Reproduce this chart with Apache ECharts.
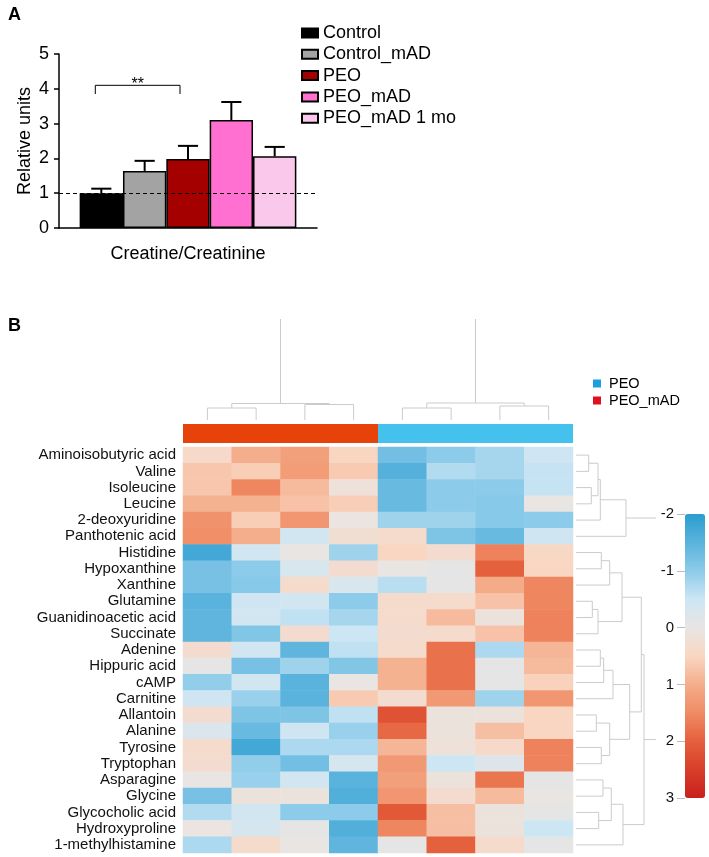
<!DOCTYPE html>
<html>
<head>
<meta charset="utf-8">
<script src="https://cdn.jsdelivr.net/npm/echarts@6/dist/echarts.min.js"></script>
<style>
html,body{margin:0;padding:0;background:#fff;}
#chart{width:709px;height:857px;}
</style>
</head>
<body>
<div id="chart"></div>
<script>
// ---------- Panel A data ----------
const barCategory = ['Creatine/Creatinine'];
const barGroups = ['Control', 'Control_mAD', 'PEO', 'PEO_mAD', 'PEO_mAD 1 mo'];
const barMeans = [1.0, 1.64, 1.98, 3.1, 2.06];
const barErrTops = [1.13, 1.93, 2.36, 3.62, 2.33];
const sigPair = [0, 2];          // Control vs PEO
const sigLevels = [4.1, 3.85];   // bracket level, bracket end
const sigLabel = '**';
const refLineValue = 1;

// ---------- Panel B data ----------
const metabolites = ['Aminoisobutyric acid', 'Valine', 'Isoleucine', 'Leucine', '2-deoxyuridine',
  'Panthotenic acid', 'Histidine', 'Hypoxanthine', 'Xanthine', 'Glutamine', 'Guanidinoacetic acid',
  'Succinate', 'Adenine', 'Hippuric acid', 'cAMP', 'Carnitine', 'Allantoin', 'Alanine', 'Tyrosine',
  'Tryptophan', 'Asparagine', 'Glycine', 'Glycocholic acid', 'Hydroxyproline', '1-methylhistamine'];
const samples = ['S1', 'S2', 'S3', 'S4', 'S5', 'S6', 'S7', 'S8'];
const sampleGroupNames = ['PEO', 'PEO_mAD'];
const sampleGroups = [1, 1, 1, 1, 0, 0, 0, 0];
const zValues = [
  [0.4, 1.0, 1.2, 0.5, -1.25, -1.0, -0.8, -0.45],
  [0.7, 0.6, 1.25, 0.65, -1.55, -0.7, -0.8, -0.55],
  [0.7, 1.55, 0.85, 0.15, -1.35, -1.0, -1.0, -0.55],
  [0.95, 0.95, 0.75, 0.6, -1.35, -1.0, -1.05, 0.0],
  [1.4, 0.6, 1.35, 0.05, -0.85, -0.85, -1.05, -1.0],
  [1.45, 1.0, -0.4, 0.25, 0.35, -1.15, -1.35, -0.45],
  [-1.75, -0.4, 0.0, -0.85, 0.5, 0.3, 1.6, 0.45],
  [-1.2, -1.0, -0.3, 0.3, 0.0, -0.05, 2.0, 0.5],
  [-1.2, -1.05, 0.35, -0.3, -0.65, -0.05, 1.05, 1.55],
  [-1.5, -0.45, -0.4, -1.0, 0.35, 0.35, 0.75, 1.55],
  [-1.45, -0.4, -0.6, -0.8, 0.35, 0.85, 0.1, 1.6],
  [-1.45, -1.1, 0.3, -0.5, 0.3, 0.35, 0.75, 1.6],
  [0.3, -0.4, -1.45, -0.6, 0.35, 1.8, -0.75, 0.9],
  [-0.05, -1.2, -0.85, -1.1, 0.95, 1.8, -0.05, 0.85],
  [-0.95, -0.4, -1.5, 0.0, 0.95, 1.8, -0.05, 0.55],
  [-0.45, -0.9, -1.5, 0.65, 0.3, 1.3, -0.85, 1.35],
  [0.3, -1.15, -1.15, -0.6, 2.2, 0.1, 0.1, 0.5],
  [-0.25, -1.35, -0.45, -0.9, 1.9, 0.1, 0.8, 0.5],
  [0.35, -1.75, -0.75, -0.75, 0.9, 0.15, 0.4, 1.6],
  [0.3, -0.95, -1.25, -0.35, 1.3, -0.5, -0.2, 1.6],
  [0.0, -0.9, -0.4, -1.5, 1.2, 0.1, 1.75, -0.05],
  [-1.2, 0.1, 0.1, -1.6, 1.35, 0.3, 0.85, 0.0],
  [-0.7, -0.4, -1.0, -1.0, 2.1, 0.8, 0.1, -0.05],
  [0.05, -0.35, -0.05, -1.6, 1.55, 0.8, 0.1, -0.5],
  [-0.75, 0.35, 0.0, -1.45, -0.05, 2.0, 0.35, -0.05]
];
const colorScaleTicks = [-2, -1, 0, 1, 2, 3];

// dendrograms: [childA, childB, height]; child index < leafCount is a leaf,
// otherwise it refers to merge (index - leafCount)
const rowMerges = [
  [0, 1, 12.7], [2, 3, 15.3], [25, 26, 22], [27, 4, 24.3], [28, 5, 50],
  [6, 7, 25.3], [30, 8, 33.7], [9, 10, 16.3], [32, 11, 22], [31, 33, 46],
  [12, 13, 24.3], [35, 14, 27.7], [36, 15, 37], [16, 17, 20.3], [18, 19, 25.3],
  [38, 39, 33.7], [37, 40, 53.7], [34, 41, 65.3], [20, 21, 27], [22, 23, 22.7],
  [43, 44, 35.3], [45, 24, 47], [42, 46, 68]
];
const rowStems = [[29, 80], [47, 80]];
const colMerges = [
  [0, 1, 12], [2, 3, 15.5], [8, 9, 16.5], [4, 5, 12], [6, 7, 14], [11, 12, 17]
];
const colStems = [[10, 101], [13, 101]];

// ---------- styles ----------
const FONT = 'Liberation Sans, Arial, Helvetica, sans-serif';
const barColors = ['#000000', '#a3a3a3', '#a40000', '#ff70d0', '#f9c8ea'];
const groupBandColors = ['#45c1ed', '#e8420b'];
const groupLegendColors = ['#1a9fe0', '#e0101e'];
const heatColors = ['#2b9dcf', '#5ab3dc', '#8ccbe9', '#cce6f4', '#e9e5e3', '#f9d6c2',
  '#f4ae8c', '#ef8b64', '#e5603c', '#d83e2a', '#c8201c'];
const DENDRO_COLOR = '#cbcbcb';
const CAT_GAP = 0.16;

// ---------- helpers ----------
function dendroSegments(merges, leafCount, stems) {
  const pos = [], hgt = [];
  for (let i = 0; i < leafCount; i++) { pos[i] = i; hgt[i] = 0; }
  const segs = [];
  merges.forEach((m, k) => {
    const a = m[0], b = m[1], h = m[2];
    const id = leafCount + k;
    pos[id] = (pos[a] + pos[b]) / 2;
    hgt[id] = h;
    segs.push([pos[a], hgt[a], pos[b], hgt[b], h]);
  });
  stems.forEach(s => {
    segs.push([pos[s[0]], hgt[s[0]], pos[s[0]], s[1], -1]);
  });
  return segs;
}
const rowSegs = dendroSegments(rowMerges, metabolites.length, rowStems);
const colSegs = dendroSegments(colMerges, samples.length, colStems);

// runs of consecutive samples in the same group: [firstCol, lastCol, group]
const groupRuns = [];
sampleGroups.forEach((g, c) => {
  const last = groupRuns[groupRuns.length - 1];
  if (last && last[2] === g && last[1] === c - 1) last[1] = c;
  else groupRuns.push([c, c, g]);
});

const heatData = [];
zValues.forEach((row, r) => row.forEach((v, c) => heatData.push([c, r, v])));

function barCenterX(api, gi) {
  const c = api.coord([0, 0]);
  const band = api.size([1, 0])[0];
  const bw = band * (1 - CAT_GAP) / barGroups.length;
  return { x: c[0] + (gi - (barGroups.length - 1) / 2) * bw, bw: bw };
}

const series = [];
barGroups.forEach((g, i) => {
  const s = {
    type: 'bar', name: g, xAxisIndex: 0, yAxisIndex: 0,
    data: [barMeans[i]],
    barGap: '0%', barCategoryGap: (CAT_GAP * 100) + '%',
    itemStyle: { color: barColors[i], borderColor: '#000', borderWidth: 1.5 },
    z: 2
  };
  if (i === 0) {
    s.markLine = {
      silent: true, symbol: 'none', label: { show: false },
      lineStyle: { type: [4, 3], color: '#000', width: 1 },
      data: [{ yAxis: refLineValue }], z: 5
    };
  }
  series.push(s);
});
// error bars
series.push({
  type: 'custom', name: 'err', xAxisIndex: 0, yAxisIndex: 0, clip: false, z: 3,
  data: barGroups.map((g, i) => [0, barMeans[i], barErrTops[i], i]),
  renderItem: function (params, api) {
    const gi = api.value(3);
    const p = barCenterX(api, gi);
    const y0 = api.coord([0, api.value(1)])[1];
    const y1 = api.coord([0, api.value(2)])[1];
    const half = p.bw / 4.3;
    return {
      type: 'group', children: [
        { type: 'line', shape: { x1: p.x, y1: y0, x2: p.x, y2: y1 }, style: { stroke: '#000', lineWidth: 2 } },
        { type: 'line', shape: { x1: p.x - half, y1: y1, x2: p.x + half, y2: y1 }, style: { stroke: '#000', lineWidth: 2 } }
      ]
    };
  }
});
// significance bracket
series.push({
  type: 'custom', name: 'sig', xAxisIndex: 0, yAxisIndex: 0, clip: false, z: 3,
  data: [[0, sigPair[0], sigPair[1], sigLevels[0], sigLevels[1]]],
  renderItem: function (params, api) {
    const a = barCenterX(api, api.value(1)).x - 6;
    const b = barCenterX(api, api.value(2)).x - 8;
    const yl = api.coord([0, api.value(3)])[1];
    const yd = api.coord([0, api.value(4)])[1];
    return {
      type: 'group', children: [
        { type: 'polyline', shape: { points: [[a, yd], [a, yl], [b, yl], [b, yd]] }, style: { stroke: '#000', lineWidth: 1, fill: null } },
        { type: 'text', style: { text: sigLabel, x: (a + b) / 2, y: yl - 1, textAlign: 'center', textVerticalAlign: 'middle', font: '16px ' + FONT, fill: '#000' } }
      ]
    };
  }
});
// heatmap
const heatSeriesIndex = series.length;
series.push({
  type: 'heatmap', name: 'heat', xAxisIndex: 1, yAxisIndex: 1,
  data: heatData, itemStyle: { borderWidth: 0 }
});
// group annotation band
series.push({
  type: 'custom', name: 'groups', xAxisIndex: 2, yAxisIndex: 2,
  data: groupRuns.map(r => [r[0], r[1], r[2]]),
  renderItem: function (params, api) {
    const c0 = api.coord([api.value(0), 0]);
    const c1 = api.coord([api.value(1), 0]);
    const sz = api.size([1, 1]);
    return {
      type: 'rect',
      shape: { x: c0[0] - sz[0] / 2, y: c0[1] - sz[1] / 2, width: c1[0] - c0[0] + sz[0], height: sz[1] },
      style: { fill: groupBandColors[api.value(2)] }
    };
  }
});
// column dendrogram
series.push({
  type: 'custom', name: 'coldendro', xAxisIndex: 3, yAxisIndex: 3, clip: false,
  data: colSegs,
  renderItem: function (params, api) {
    const pa = api.value(0), ha = api.value(1), pb = api.value(2), hb = api.value(3), h = api.value(4);
    let pts;
    if (h < 0) pts = [api.coord([pa, ha]), api.coord([pb, hb])];
    else pts = [api.coord([pa, ha]), api.coord([pa, h]), api.coord([pb, h]), api.coord([pb, hb])];
    return { type: 'polyline', shape: { points: pts }, style: { stroke: DENDRO_COLOR, lineWidth: 1, fill: null } };
  }
});
// row dendrogram
series.push({
  type: 'custom', name: 'rowdendro', xAxisIndex: 4, yAxisIndex: 4, clip: false,
  data: rowSegs,
  renderItem: function (params, api) {
    const pa = api.value(0), ha = api.value(1), pb = api.value(2), hb = api.value(3), h = api.value(4);
    let pts;
    if (h < 0) pts = [api.coord([ha, pa]), api.coord([hb, pb])];
    else pts = [api.coord([ha, pa]), api.coord([h, pa]), api.coord([h, pb]), api.coord([hb, pb])];
    return { type: 'polyline', shape: { points: pts }, style: { stroke: DENDRO_COLOR, lineWidth: 1, fill: null } };
  }
});

const option = {
  animation: false,
  backgroundColor: '#fff',
  textStyle: { fontFamily: FONT },
  title: [
    { text: 'A', left: 3, top: 1, textStyle: { fontSize: 18, fontWeight: 'bold', color: '#000', fontFamily: FONT } },
    { text: 'B', left: 3, top: 312, textStyle: { fontSize: 18, fontWeight: 'bold', color: '#000', fontFamily: FONT } }
  ],
  legend: [
    {
      data: barGroups, orient: 'vertical', left: 301, top: 24, icon: 'rect', padding: 0,
      itemWidth: 16, itemHeight: 9, itemGap: 3.3, selectedMode: false,
      textStyle: { fontSize: 18, lineHeight: 18, color: '#000', fontFamily: FONT }
    },
    {
      data: sampleGroupNames.map((n, i) => ({ name: n, itemStyle: { color: groupLegendColors[i], borderWidth: 0 } })),
      orient: 'vertical', left: 593, top: 376, icon: 'rect', padding: 0,
      itemWidth: 8, itemHeight: 8, itemGap: 2, selectedMode: false,
      textStyle: { fontSize: 14.5, lineHeight: 14, color: '#000', fontFamily: FONT, padding: [0, 0, 0, 3] }
    }
  ],
  grid: [
    { left: 59, top: 54, width: 258, height: 174 },
    { left: 183, top: 447, width: 390, height: 406 },
    { left: 183, top: 424, width: 390, height: 19 },
    { left: 183, top: 319, width: 390, height: 101 },
    { left: 576, top: 447, width: 80, height: 406 },
    { left: 685, top: 514, width: 20, height: 284 }
  ],
  xAxis: [
    {
      gridIndex: 0, type: 'category', data: barCategory,
      axisLine: { lineStyle: { color: '#000', width: 1.5 } },
      axisTick: { alignWithLabel: true, length: 5, lineStyle: { color: '#000', width: 1.5 } },
      axisLabel: { fontSize: 18, color: '#000', margin: 17 }
    },
    { gridIndex: 1, type: 'category', data: samples, show: false },
    { gridIndex: 2, type: 'category', data: samples, show: false },
    { gridIndex: 3, type: 'value', min: -0.5, max: samples.length - 0.5, show: false },
    { gridIndex: 4, type: 'value', min: 0, max: 80, show: false },
    { gridIndex: 5, type: 'value', min: 0, max: 1, show: false }
  ],
  yAxis: [
    {
      gridIndex: 0, type: 'value', min: 0, max: 5, interval: 1,
      name: 'Relative units', nameLocation: 'middle', nameGap: 25,
      nameTextStyle: { fontSize: 18, color: '#000' },
      axisLine: { show: true, lineStyle: { color: '#000', width: 1.5 } },
      axisTick: { show: true, length: 5, lineStyle: { color: '#000', width: 1.5 } },
      axisLabel: { fontSize: 18, color: '#000', margin: 10 },
      splitLine: { show: false }
    },
    {
      gridIndex: 1, type: 'category', data: metabolites, inverse: true,
      axisLine: { show: false }, axisTick: { show: false },
      axisLabel: { fontSize: 15, color: '#111', margin: 7, interval: 0 }
    },
    { gridIndex: 2, type: 'category', data: ['group'], show: false },
    { gridIndex: 3, type: 'value', min: 0, max: 101, show: false },
    { gridIndex: 4, type: 'value', min: -0.5, max: metabolites.length - 0.5, inverse: true, show: false },
    {
      gridIndex: 5, type: 'value', min: colorScaleTicks[0], max: colorScaleTicks[colorScaleTicks.length - 1],
      interval: 1, inverse: true, position: 'left',
      axisLine: { show: false },
      axisTick: { show: true, length: 8, lineStyle: { color: '#bbb', width: 1 } },
      axisLabel: { fontSize: 15, color: '#111', margin: 11 },
      splitLine: { show: false }
    }
  ],
  visualMap: [{
    type: 'continuous', seriesIndex: heatSeriesIndex,
    min: colorScaleTicks[0], max: colorScaleTicks[colorScaleTicks.length - 1],
    inverse: true, orient: 'vertical', left: 685, top: 514,
    itemWidth: 20, itemHeight: 284, calculable: false, padding: 0,
    text: null, showLabel: false,
    inRange: { color: heatColors }
  }],
  series: series
};

const chart = echarts.init(document.getElementById('chart'), null, { renderer: 'canvas' });
chart.setOption(option);
</script>
</body>
</html>
